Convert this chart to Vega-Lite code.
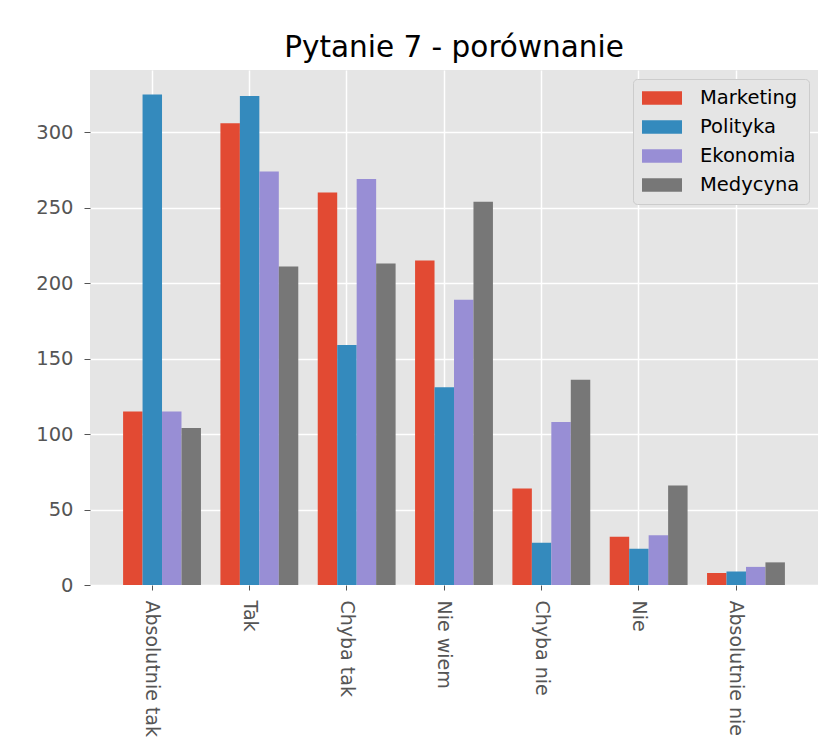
{
  "$schema": "https://vega.github.io/schema/vega-lite/v6.json",
  "autosize": {"type": "none"},
  "padding": {"left": 90, "top": 70, "right": 11, "bottom": 168},
  "width": 728,
  "height": 515,
  "background": "white",
  "title": {
    "text": "Pytanie 7 - porównanie",
    "fontSize": 29.5,
    "font": "DejaVu Sans",
    "fontWeight": "normal",
    "color": "#000000",
    "offset": 7,
    "anchor": "middle"
  },
  "data": {
    "values": [
      {"odpowiedz": "Absolutnie tak", "kierunek": "Marketing", "liczba": 115},
      {"odpowiedz": "Absolutnie tak", "kierunek": "Polityka", "liczba": 325},
      {"odpowiedz": "Absolutnie tak", "kierunek": "Ekonomia", "liczba": 115},
      {"odpowiedz": "Absolutnie tak", "kierunek": "Medycyna", "liczba": 104},
      {"odpowiedz": "Tak", "kierunek": "Marketing", "liczba": 306},
      {"odpowiedz": "Tak", "kierunek": "Polityka", "liczba": 324},
      {"odpowiedz": "Tak", "kierunek": "Ekonomia", "liczba": 274},
      {"odpowiedz": "Tak", "kierunek": "Medycyna", "liczba": 211},
      {"odpowiedz": "Chyba tak", "kierunek": "Marketing", "liczba": 260},
      {"odpowiedz": "Chyba tak", "kierunek": "Polityka", "liczba": 159},
      {"odpowiedz": "Chyba tak", "kierunek": "Ekonomia", "liczba": 269},
      {"odpowiedz": "Chyba tak", "kierunek": "Medycyna", "liczba": 213},
      {"odpowiedz": "Nie wiem", "kierunek": "Marketing", "liczba": 215},
      {"odpowiedz": "Nie wiem", "kierunek": "Polityka", "liczba": 131},
      {"odpowiedz": "Nie wiem", "kierunek": "Ekonomia", "liczba": 189},
      {"odpowiedz": "Nie wiem", "kierunek": "Medycyna", "liczba": 254},
      {"odpowiedz": "Chyba nie", "kierunek": "Marketing", "liczba": 64},
      {"odpowiedz": "Chyba nie", "kierunek": "Polityka", "liczba": 28},
      {"odpowiedz": "Chyba nie", "kierunek": "Ekonomia", "liczba": 108},
      {"odpowiedz": "Chyba nie", "kierunek": "Medycyna", "liczba": 136},
      {"odpowiedz": "Nie", "kierunek": "Marketing", "liczba": 32},
      {"odpowiedz": "Nie", "kierunek": "Polityka", "liczba": 24},
      {"odpowiedz": "Nie", "kierunek": "Ekonomia", "liczba": 33},
      {"odpowiedz": "Nie", "kierunek": "Medycyna", "liczba": 66},
      {"odpowiedz": "Absolutnie nie", "kierunek": "Marketing", "liczba": 8},
      {"odpowiedz": "Absolutnie nie", "kierunek": "Polityka", "liczba": 9},
      {"odpowiedz": "Absolutnie nie", "kierunek": "Ekonomia", "liczba": 12},
      {"odpowiedz": "Absolutnie nie", "kierunek": "Medycyna", "liczba": 15}
    ]
  },
  "mark": {"type": "bar"},
  "encoding": {
    "x": {
      "field": "odpowiedz",
      "type": "nominal",
      "sort": ["Absolutnie tak", "Tak", "Chyba tak", "Nie wiem", "Chyba nie", "Nie", "Absolutnie nie"],
      "scale": {"paddingInner": 0.2, "paddingOuter": 0.34},
      "axis": {
        "title": null,
        "bandPosition": 0.375,
        "grid": true,
        "gridColor": "#FFFFFF",
        "gridWidth": 1.5,
        "domain": false,
        "ticks": true,
        "tickColor": "#555555",
        "tickSize": 5,
        "tickWidth": 1,
        "labelAngle": 90,
        "labelAlign": "left",
        "labelBaseline": "middle",
        "labelOffset": -9.7,
        "labelPadding": 10,
        "labelFont": "DejaVu Sans",
        "labelFontSize": 19,
        "labelColor": "#555555"
      }
    },
    "xOffset": {
      "field": "kierunek",
      "type": "nominal",
      "sort": ["Marketing", "Polityka", "Ekonomia", "Medycyna"],
      "scale": {"paddingInner": 0, "paddingOuter": 0}
    },
    "y": {
      "field": "liczba",
      "type": "quantitative",
      "scale": {"domain": [0, 341.25], "nice": false, "zero": true},
      "axis": {
        "title": null,
        "values": [0, 50, 100, 150, 200, 250, 300],
        "grid": true,
        "gridColor": "#FFFFFF",
        "gridWidth": 1.5,
        "domain": false,
        "tickColor": "#555555",
        "tickSize": 6,
        "tickWidth": 1,
        "labelPadding": 11,
        "labelFont": "DejaVu Sans",
        "labelFontSize": 19.5,
        "labelColor": "#555555"
      }
    },
    "color": {
      "field": "kierunek",
      "type": "nominal",
      "sort": ["Marketing", "Polityka", "Ekonomia", "Medycyna"],
      "scale": {
        "domain": ["Marketing", "Polityka", "Ekonomia", "Medycyna"],
        "range": ["#E24A33", "#348ABD", "#988ED5", "#777777"]
      },
      "legend": {
        "title": null,
        "orient": "top-right",
        "offset": 9,
        "symbolType": "M-2,-0.67H2V0.67H-2Z",
        "symbolSize": 400,
        "symbolOffset": 10,
        "symbolStrokeWidth": 0,
        "symbolOpacity": 1,
        "labelFont": "DejaVu Sans",
        "labelFontSize": 19.5,
        "labelColor": "#000000",
        "labelOffset": 28,
        "rowPadding": 9,
        "padding": 9,
        "fillColor": "#E5E5E5",
        "strokeColor": "#CCCCCC",
        "cornerRadius": 4
      }
    }
  },
  "config": {
    "view": {"fill": "#E5E5E5", "stroke": null}
  }
}
